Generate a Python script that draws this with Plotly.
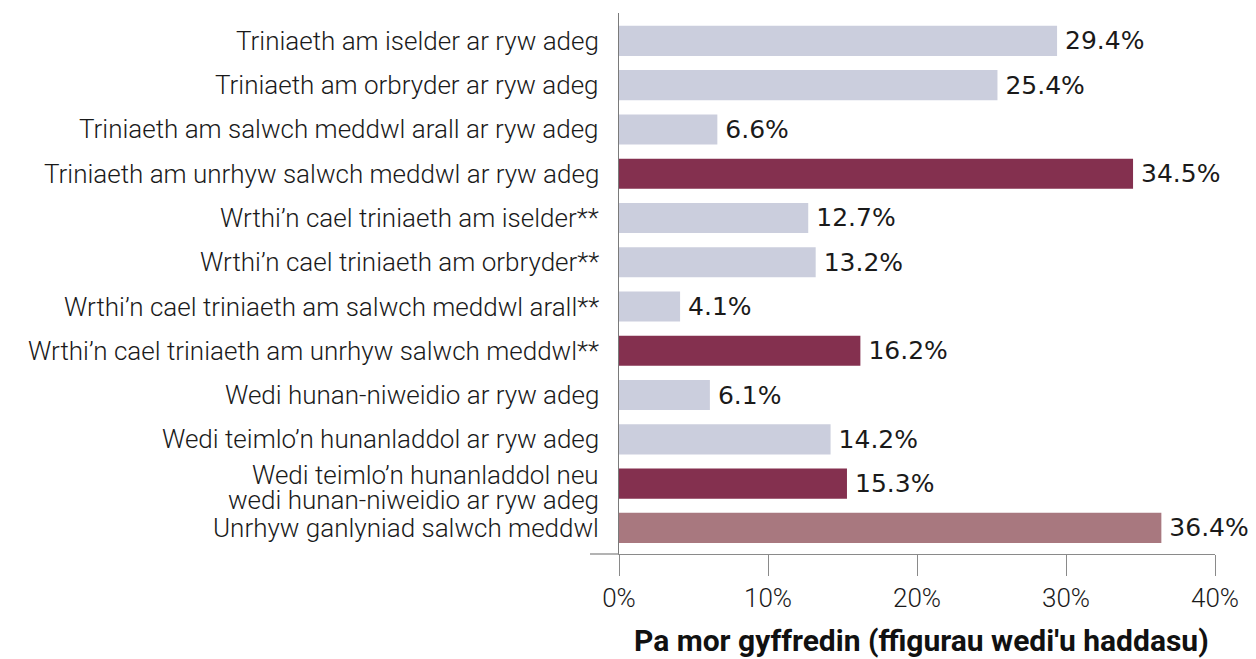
import plotly.graph_objects as go

categories = [
    "Triniaeth am iselder ar ryw adeg",
    "Triniaeth am orbryder ar ryw adeg",
    "Triniaeth am salwch meddwl arall ar ryw adeg",
    "Triniaeth am unrhyw salwch meddwl ar ryw adeg",
    "Wrthi’n cael triniaeth am iselder**",
    "Wrthi’n cael triniaeth am orbryder**",
    "Wrthi’n cael triniaeth am salwch meddwl arall**",
    "Wrthi’n cael triniaeth am unrhyw salwch meddwl**",
    "Wedi hunan-niweidio ar ryw adeg",
    "Wedi teimlo’n hunanladdol ar ryw adeg",
    "Wedi teimlo’n hunanladdol neu<br>wedi hunan-niweidio ar ryw adeg",
    "Unrhyw ganlyniad salwch meddwl",
]
values = [29.4, 25.4, 6.6, 34.5, 12.7, 13.2, 4.1, 16.2, 6.1, 14.2, 15.3, 36.4]
groups = ["light", "light", "light", "dark", "light", "light", "light", "dark",
          "light", "light", "dark", "pink"]
palette = {"light": "#CBCEDD", "dark": "#84304F", "pink": "#A8787F"}
x_ticks = [0, 10, 20, 30, 40]
x_tick_labels = ["0%", "10%", "20%", "30%", "40%"]
x_title = "Pa mor gyffredin (ffigurau wedi'u haddasu)"

label_font = dict(family="Roboto", size=26, color="#1a1a1a", weight=300)

fig = go.Figure(
    go.Bar(
        y=list(range(len(categories))),
        x=values,
        orientation="h",
        marker=dict(color=[palette[g] for g in groups], line=dict(width=0)),
        text=[f"\u2009{v:.1f}%" for v in values],
        textposition="outside",
        textfont=dict(family="DejaVu Sans", size=25, color="#1a1a1a"),
        cliponaxis=False,
        constraintext="none",
        hoverinfo="skip",
    )
)

# category labels as annotations (allows tighter line spacing for wrapped label)
annotations = []
for i, cat in enumerate(categories):
    lines = cat.split("<br>")
    if len(lines) == 1:
        shifts = [0]
    else:
        shifts = [9, -16]
    for line, ys in zip(lines, shifts):
        annotations.append(dict(
            text=line, xref="paper", yref="y", x=0, y=i,
            xanchor="right", yanchor="middle", xshift=-18, yshift=ys,
            showarrow=False, font=label_font,
        ))

annotations.append(dict(
    text=x_title, xref="paper", yref="paper", x=0.508, y=-86 / 541,
    xanchor="center", yanchor="middle", showarrow=False,
    font=dict(family="Roboto", size=30, color="#111111", weight="bold"),
))

fig.update_layout(
    width=1248,
    height=651,
    margin=dict(l=611, r=41, t=5, b=105),
    paper_bgcolor="white",
    plot_bgcolor="white",
    bargap=0.32,
    showlegend=False,
    xaxis=dict(
        range=[0, 40],
        tickvals=x_ticks,
        ticktext=x_tick_labels,
        ticks="outside",
        ticklen=21,
        tickwidth=1.3,
        tickcolor="#8a8a8a",
        showline=True,
        linecolor="#8a8a8a",
        linewidth=1.3,
        showgrid=False,
        zeroline=False,
        tickfont=dict(family="Roboto", size=26, color="#1a1a1a", weight=300),
    ),
    yaxis=dict(
        range=[11.59, -0.63],
        tickvals=list(range(len(categories))),
        showticklabels=False,
        ticks="",
        showline=True,
        linecolor="#7a7a7a",
        linewidth=1.3,
        showgrid=False,
        zeroline=False,
    ),
    shapes=[
        dict(type="line", xref="paper", yref="paper", x0=-29 / 596, x1=0,
             y0=0, y1=0, line=dict(color="#8a8a8a", width=1.3)),
    ],
    annotations=annotations,
)

fig.write_html("out.html")
